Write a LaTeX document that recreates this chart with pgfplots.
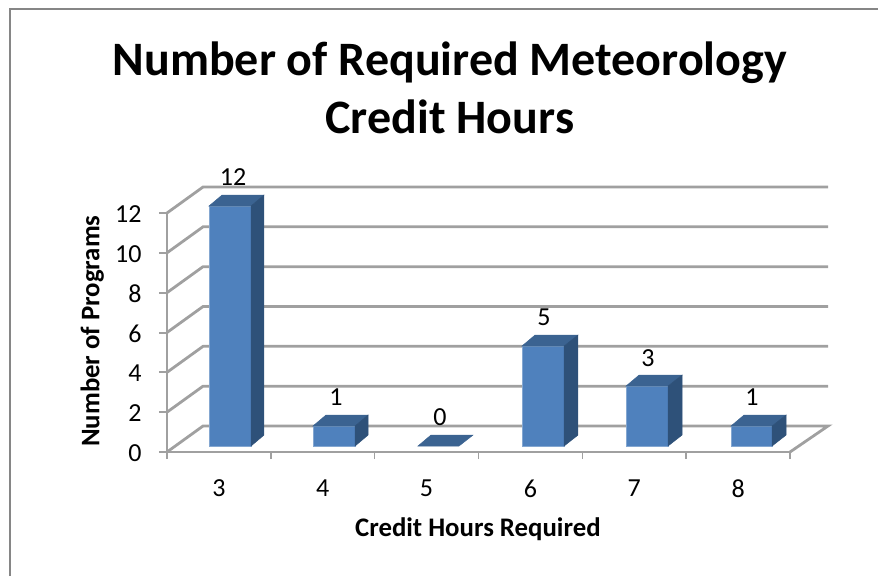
\documentclass[border=0pt]{standalone}
\usepackage{fontspec}
\setmainfont{Carlito}
\usepackage{pgfplots}
\usepackage{pgfplotstable}
\pgfplotsset{compat=1.18}
\definecolor{barfront}{HTML}{4F81BD}
\definecolor{bartop}{HTML}{3B6391}
\definecolor{barside}{HTML}{2E5179}
\definecolor{gridgray}{HTML}{A0A0A0}
\definecolor{framegray}{HTML}{868686}
\pgfplotstableread{
x y lab
3.136 13.805 12
4.128 2.76 1
5.129 1.757 0
6.131 6.777 5
7.133 4.719 3
8.134 2.76 1
}\barlabels
\begin{document}
\begin{tikzpicture}[x=1pt,y=1pt]
\useasboundingbox (0,0) rectangle (878,576);
\draw[framegray,line width=2.4pt] (10,0) -- (10,567) -- (878,567);
\begin{axis}[
  at={(167pt,124pt)}, anchor=south west,
  scale only axis, width=623pt, height=239pt,
  xmin=2.5, xmax=8.5, ymin=0, ymax=12,
  clip=false,
  axis lines*=left,
  axis line style={gridgray,line width=2.8pt,-},
  xtick={3,4,5,6,7,8},
  xticklabels={3,4,5,6,7,8},
  minor xtick={2.5,3.5,4.5,5.5,6.5,7.5,8.5},
  ytick={0,2,4,6,8,10,12},
  /pgf/number format/assume math mode=true,
  tick align=outside,
  major tick length=8pt,
  minor tick length=7pt,
  xtick style={draw=none},
  minor x tick style={draw=gridgray,line width=1.6pt},
  ytick style={gridgray,line width=2pt},
  tick label style={font=\fontsize{26}{30}\selectfont,black},
  xticklabel style={yshift=-16pt},
  yticklabel style={xshift=-14pt,yshift=-1pt},
  title={Number of Required Meteorology\\Credit Hours},
  title style={at={(axis description cs:0.454,1.497)},anchor=center,align=center,
    font=\fontsize{48}{58}\selectfont\bfseries},
  xlabel={Credit Hours Required},
  xlabel style={at={(axis description cs:0.499,-0.322)},anchor=center,
    font=\fontsize{26.8}{30}\selectfont\bfseries},
  ylabel={Number of Programs},
  ylabel style={at={(axis description cs:-0.120,0.506)},anchor=center,
    font=\fontsize{26.8}{30}\selectfont\bfseries},
]
% back plane gridlines and the left wall / floor edges
\pgfplotsset{gl/.style={gridgray,line width=2.8pt,forget plot}}
\addplot[gl] coordinates {(2.5,0) (2.847,1.305) (8.866,1.305) (8.5,0)};
\addplot[gl] coordinates {(2.5,2) (2.847,3.305) (8.866,3.305)};
\addplot[gl] coordinates {(2.5,4) (2.847,5.305) (8.866,5.305)};
\addplot[gl] coordinates {(2.5,6) (2.847,7.305) (8.866,7.305)};
\addplot[gl] coordinates {(2.5,8) (2.847,9.305) (8.866,9.305)};
\addplot[gl] coordinates {(2.5,10) (2.847,11.305) (8.866,11.305)};
\addplot[gl] coordinates {(2.5,12) (2.847,13.305) (8.866,13.305)};
% bars: front, top, side
\pgfplotsset{
  bf/.style={fill=barfront,draw=barfront!70!white,line width=0.6pt,forget plot},
  bt/.style={fill=bartop,draw=bartop,line width=0.5pt,forget plot},
  bs/.style={fill=barside,draw=barside,line width=0.5pt,forget plot}}
% category 3, value 12
\addplot[bf] coordinates {(2.9045,0.30) (3.309,0.30) (3.309,12.35) (2.9045,12.35)} -- cycle;
\addplot[bt] coordinates {(2.9045,12.35) (3.309,12.35) (3.434,12.90) (3.03,12.90)} -- cycle;
\addplot[bs] coordinates {(3.309,0.30) (3.434,0.85) (3.434,12.90) (3.309,12.35)} -- cycle;
% category 4, value 1
\addplot[bf] coordinates {(3.906,0.30) (4.311,0.30) (4.311,1.305) (3.906,1.305)} -- cycle;
\addplot[bt] coordinates {(3.906,1.305) (4.311,1.305) (4.436,1.855) (4.031,1.855)} -- cycle;
\addplot[bs] coordinates {(4.311,0.30) (4.436,0.85) (4.436,1.855) (4.311,1.305)} -- cycle;
% category 5, value 0
\addplot[bt] coordinates {(4.917,0.30) (5.312,0.30) (5.447,0.85) (5.042,0.85)} -- cycle;
% category 6, value 5
\addplot[bf] coordinates {(5.919,0.30) (6.324,0.30) (6.324,5.32) (5.919,5.32)} -- cycle;
\addplot[bt] coordinates {(5.919,5.32) (6.324,5.32) (6.458,5.87) (6.044,5.87)} -- cycle;
\addplot[bs] coordinates {(6.324,0.30) (6.458,0.85) (6.458,5.87) (6.324,5.32)} -- cycle;
% category 7, value 3
\addplot[bf] coordinates {(6.921,0.30) (7.325,0.30) (7.325,3.31) (6.921,3.31)} -- cycle;
\addplot[bt] coordinates {(6.921,3.31) (7.325,3.31) (7.460,3.86) (7.046,3.86)} -- cycle;
\addplot[bs] coordinates {(7.325,0.30) (7.460,0.85) (7.460,3.86) (7.325,3.31)} -- cycle;
% category 8, value 1
\addplot[bf] coordinates {(7.932,0.30) (8.327,0.30) (8.327,1.305) (7.932,1.305)} -- cycle;
\addplot[bt] coordinates {(7.932,1.305) (8.327,1.305) (8.462,1.855) (8.057,1.855)} -- cycle;
\addplot[bs] coordinates {(8.327,0.30) (8.462,0.85) (8.462,1.855) (8.327,1.305)} -- cycle;
% data labels
\addplot[only marks,mark=none,forget plot,point meta=explicit symbolic,
  nodes near coords,
  nodes near coords style={anchor=center,font=\fontsize{26}{30}\selectfont,black}]
  table[x=x,y=y,meta=lab] {\barlabels};
\end{axis}
\end{tikzpicture}
\end{document}
